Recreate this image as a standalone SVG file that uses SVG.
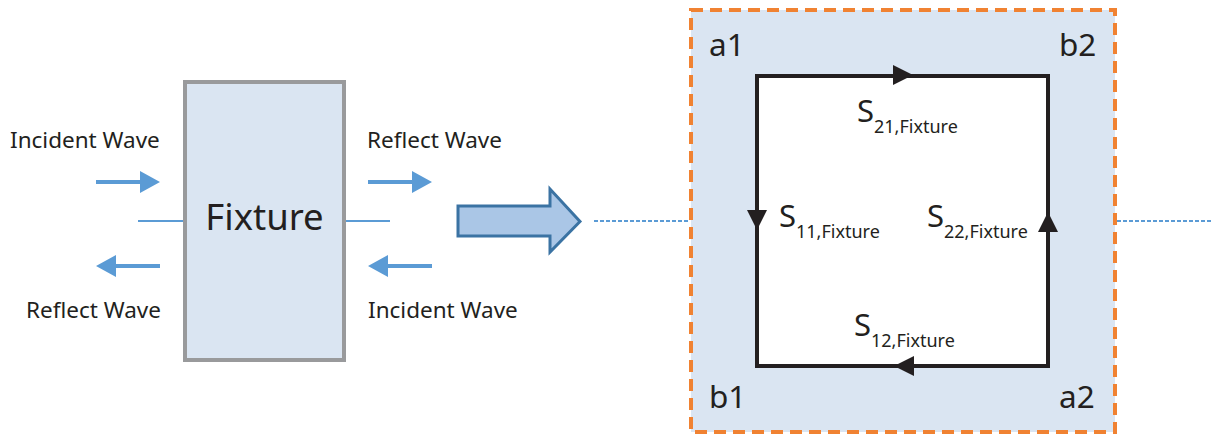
<svg xmlns="http://www.w3.org/2000/svg" width="1211" height="437" viewBox="0 0 1211 437">
<defs>
<style>
text{font-family:"Noto Sans","Open Sans","Liberation Sans",sans-serif;fill:#231f20}
.lbl{font-size:22.5px}
.port{font-size:31.5px}
.s{font-size:31px}
.sub{font-size:18px}
.wave{fill:#5b9bd5}
.blue{stroke:#5b9bd5;stroke-width:2;fill:none}
.dot{stroke:#5b9bd5;stroke-width:2;stroke-dasharray:4 2;fill:none}
.tri{fill:#231f20}
</style>
</defs>
<rect width="1211" height="437" fill="#ffffff"/>
<g id="connectors">
<line class="blue" x1="138" y1="221" x2="185" y2="221"/>
<line class="blue" x1="344" y1="221" x2="390" y2="221"/>
<path class="wave" d="M96 180h44v-9l20 11l-20 11v-9h-44z"/>
<path class="wave" d="M160 264h-44v-9l-20 11l20 11v-9h44z"/>
<path class="wave" d="M368 180h44v-9l20 11l-20 11v-9h-44z"/>
<path class="wave" d="M432 264h-44v-9l-20 11l20 11v-9h44z"/>
<line class="dot" x1="594" y1="221" x2="690" y2="221"/>
<line class="dot" x1="1117" y1="221" x2="1211" y2="221"/>
</g>
<g id="labels-left">
<text class="lbl" x="10" y="148">Incident Wave</text>
<text class="lbl" x="367" y="148">Reflect Wave</text>
<text class="lbl" x="26" y="318">Reflect Wave</text>
<text class="lbl" x="368" y="318">Incident Wave</text>
</g>
<g id="fixture">
<rect x="185" y="82" width="159" height="278" fill="#dae5f2" stroke="#999a9c" stroke-width="4"/>
<text x="264.5" y="230" font-size="36.5" text-anchor="middle">Fixture</text>
</g>
<g id="big-arrow">
<path d="M458 206H550V189L580 221.5L550 252V236H458Z" fill="#aac6e6" stroke="#3b73a3" stroke-width="3" stroke-linejoin="miter"/>
</g>
<g id="sparam-block">
<rect x="691" y="10" width="424" height="422" fill="#dae5f2" stroke="#f08232" stroke-width="4" stroke-dasharray="12 7"/>
<rect x="757" y="76" width="291" height="290" fill="#ffffff" stroke="#231f20" stroke-width="4"/>
<path class="tri" d="M893 65L913 75L893 85Z"/>
<path class="tri" d="M914 356L894 366L914 376Z"/>
<path class="tri" d="M747 210L767 210L757 230Z"/>
<path class="tri" d="M1038 232L1058 232L1048 212Z"/>
<text class="port" x="709" y="56">a1</text>
<text class="port" x="1059" y="56">b2</text>
<text class="port" x="709" y="408">b1</text>
<text class="port" x="1059" y="408">a2</text>
<text class="s" x="857" y="122">S<tspan class="sub" dy="11">21,Fixture</tspan></text>
<text class="s" x="779" y="227">S<tspan class="sub" dy="11">11,Fixture</tspan></text>
<text class="s" x="927" y="227">S<tspan class="sub" dy="11">22,Fixture</tspan></text>
<text class="s" x="854" y="336">S<tspan class="sub" dy="11">12,Fixture</tspan></text>
</g>
</svg>
